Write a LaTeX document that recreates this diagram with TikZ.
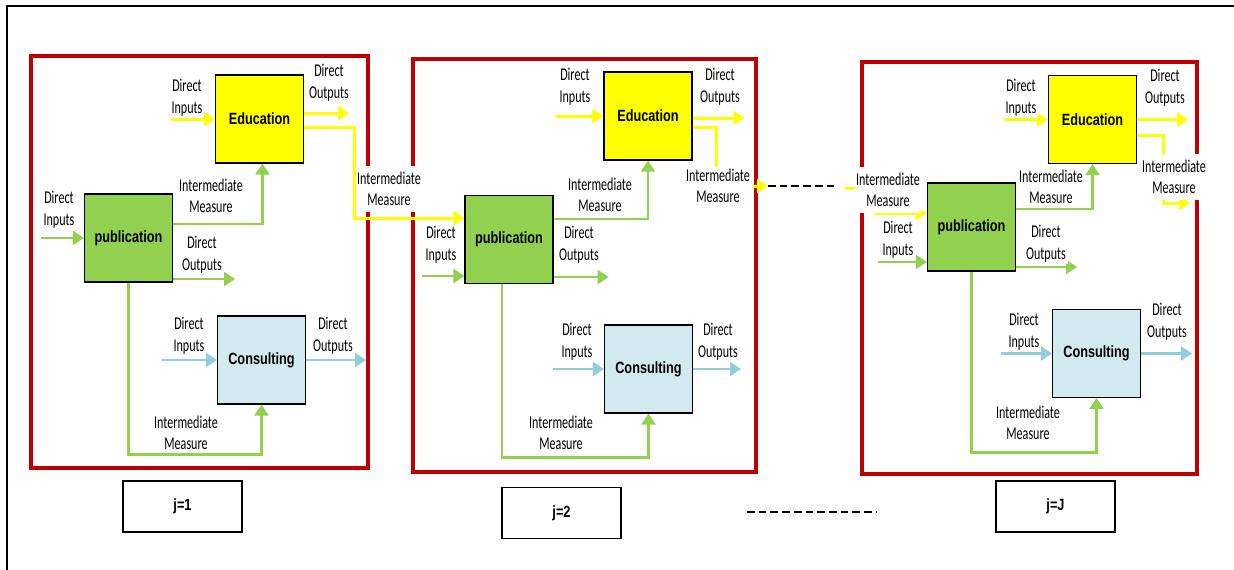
\documentclass[tikz,border=0pt]{standalone}
\usepackage{fontspec}
\usetikzlibrary{arrows.meta}

\newfontfamily\lblfont[FakeStretch=0.67]{Carlito}
\newfontfamily\boxfont[FakeStretch=0.78]{Liberation Sans}
\newcommand\lbltext{\lblfont\fontsize{18pt}{21.5pt}\selectfont}
\newcommand\boxtext{\boxfont\fontsize{16.3pt}{19pt}\selectfont\bfseries}

\definecolor{eduyellow}{HTML}{FFFF00}
\definecolor{pubgreen}{HTML}{92D050}
\definecolor{conblue}{HTML}{D2E9EF}
\definecolor{arrblue}{HTML}{92CDDC}
\definecolor{panelred}{HTML}{C00000}

\tikzset{
  box/.style={draw=black, line width=1.2pt, minimum width=88pt, minimum height=88pt, inner sep=0pt, font=\boxtext},
  edubox/.style={box, fill=eduyellow},
  pubbox/.style={box, fill=pubgreen},
  conbox/.style={box, fill=conblue},
  jbox/.style={draw=black, line width=1.2pt, minimum width=119pt, minimum height=51pt, inner sep=0pt, font=\boxtext},
  panel/.style={draw=panelred, line width=4pt},
  lbl/.style={align=center, font=\lbltext, fill=white, inner sep=2pt},
  lblw/.style={lbl, inner xsep=1pt, inner ysep=6pt},
  yarr/.style={draw=eduyellow, line width=3pt, -{Triangle[length=11pt,width=14pt]}},
  garr/.style={draw=pubgreen, line width=2.5pt, -{Triangle[length=11pt,width=14pt]}},
  barr/.style={draw=arrblue, line width=2.5pt, -{Triangle[length=11pt,width=14pt]}}
}

\begin{document}
\begin{tikzpicture}[x=1pt,y=-1pt]
    \useasboundingbox (0,0) rectangle (1234,570);
    \draw[line width=1.2pt] (7,570) -- (7,6) -- (1234,6);

    % the three periods
    \draw[panel] (31,56) rectangle (368,468);
    \draw[panel] (413,59) rectangle (756,472);
    \draw[panel] (862,62) rectangle (1197,474);

    \node[edubox] (edu1) at (259.5,119) {Education};
    \node[pubbox] (pub1) at (128.5,238) {publication};
    \node[conbox] (con1) at (261.5,360) {Consulting};
    \node[jbox] (j1) at (182.5,506.5) {j=1};

    \node[edubox] (edu2) at (648,116) {Education};
    \node[pubbox] (pub2) at (509,239.5) {publication};
    \node[conbox] (con2) at (648.5,369) {Consulting};
    \node[jbox] (j2) at (561.5,513) {j=2};

    \node[edubox] (edu3) at (1092.5,119.5) {Education};
    \node[pubbox] (pub3) at (971.5,227) {publication};
    \node[conbox] (con3) at (1096.5,353.5) {Consulting};
    \node[jbox] (jJ) at (1055.5,506.5) {j=J};

    \coordinate (imA) at (768,186);
    \coordinate (dashB) at (838,186);
    \coordinate (imC) at (845,188);
    \coordinate (imB) at (1190,203);
    \coordinate (dotL) at (747,512);
    \coordinate (dotR) at (877,512);

    % j=1
    \draw[yarr] ([xshift=-44pt]edu1.west) -- (edu1.west);
    \draw[yarr] ([yshift=6pt]edu1.east) -- ++(45pt,0);
    \draw[yarr] ([yshift=-8pt]edu1.east) -- ++(50pt,0) |- ([yshift=21.5pt]pub2.west);
    \draw[garr] ([xshift=-43pt]pub1.west) -- (pub1.west);
    \draw[garr] ([yshift=14pt]pub1.east) -| ([xshift=3pt]edu1.south);
    \draw[garr] ([yshift=-41pt]pub1.east) -- ++(62pt,0);
    \draw[garr] (pub1.south) -- ++(0,-172pt) -| (con1.south);
    \draw[barr] ([xshift=-55pt]con1.west) -- (con1.west);
    \draw[barr] (con1.east) -- ++(60pt,0);

    % j=2
    \draw[yarr] ([xshift=-47pt]edu2.west) -- (edu2.west);
    \draw[yarr] ([yshift=-2pt]edu2.east) -- ++(52pt,0);
    \draw[yarr] ([yshift=-11pt]edu2.east) -- ++(24pt,0) |- (imA);
    \draw[garr] ([xshift=-42pt,yshift=-36.5pt]pub2.west) -- ([yshift=-36.5pt]pub2.west);
    \draw[garr] ([yshift=20.5pt]pub2.east) -| (edu2.south);
    \draw[garr] ([yshift=-37.5pt]pub2.east) -- ++(55pt,0);
    \draw[garr] ([xshift=-7pt]pub2.south) -- ++(0,-173.5pt) -| (con2.south);
    \draw[barr] ([xshift=-51pt]con2.west) -- (con2.west);
    \draw[barr] (con2.east) -- ++(48pt,0);

    \draw[line width=1.5pt, dash pattern=on 7.7pt off 4pt] (imA) -- (dashB);
    \draw[line width=1.5pt, dash pattern=on 7.7pt off 4pt] (dotL) -- (dotR);

    % j=J
    \draw[yarr] (imC) -- ++(30pt,0) |- ([yshift=14pt]pub3.west);
    \draw[yarr] ([xshift=-44pt]edu3.west) -- (edu3.west);
    \draw[yarr] (edu3.east) -- ++(51pt,0);
    \draw[yarr] ([yshift=-15.5pt]edu3.east) -- ++(26pt,0) |- (imB);
    \draw[garr] ([xshift=-49pt,yshift=-35pt]pub3.west) -- ([yshift=-35pt]pub3.west);
    \draw[garr] ([yshift=18pt]pub3.east) -| (edu3.south);
    \draw[garr] ([yshift=-40pt]pub3.east) -- ++(61pt,0);
    \draw[garr] (pub3.south) -- ++(0,-181pt) -| (con3.south);
    \draw[barr] ([xshift=-51pt]con3.west) -- (con3.west);
    \draw[barr] (con3.east) -- ++(51pt,0);

    % labels
    \node[lbl] (e1in) at (187,98) {Direct\\Inputs};
    \node[lbl] (e1out) at (329,83) {Direct\\Outputs};
    \node[lblw] (e1im) at (389,189) {Intermediate\\Measure};
    \node[lbl] (p1in) at (59,210) {Direct\\Inputs};
    \node[lbl] (p1im) at (211,196) {Intermediate\\Measure};
    \node[lbl] (p1out) at (202,255) {Direct\\Outputs};
    \node[lbl] (c1in) at (189,336) {Direct\\Inputs};
    \node[lbl] (c1out) at (333,336) {Direct\\Outputs};
    \node[lbl] (c1im) at (186,433) {Intermediate\\Measure};

    \node[lbl] (e2in) at (575,87) {Direct\\Inputs};
    \node[lbl] (e2out) at (720,87) {Direct\\Outputs};
    \node[lbl] (e2im) at (718,186) {Intermediate\\Measure};
    \node[lbl] (p2in) at (441,245) {Direct\\Inputs};
    \node[lbl] (p2im) at (600,195) {Intermediate\\Measure};
    \node[lbl] (p2out) at (579,245) {Direct\\Outputs};
    \node[lbl] (c2in) at (577,342) {Direct\\Inputs};
    \node[lbl] (c2out) at (718,342) {Direct\\Outputs};
    \node[lbl] (c2im) at (561,433) {Intermediate\\Measure};

    \node[lbl] (e3in) at (1021,98) {Direct\\Inputs};
    \node[lbl] (e3out) at (1165,88) {Direct\\Outputs};
    \node[lblw] (e3im) at (1174,177) {Intermediate\\Measure};
    \node[lblw] (p3imin) at (888,190) {Intermediate\\Measure};
    \node[lbl] (p3in) at (898,240) {Direct\\Inputs};
    \node[lbl] (p3im) at (1051,187) {Intermediate\\Measure};
    \node[lbl] (p3out) at (1046,244) {Direct\\Outputs};
    \node[lbl] (c3in) at (1024,332) {Direct\\Inputs};
    \node[lbl] (c3out) at (1167,322) {Direct\\Outputs};
    \node[lbl] (c3im) at (1028,423) {Intermediate\\Measure};
\end{tikzpicture}
\end{document}
